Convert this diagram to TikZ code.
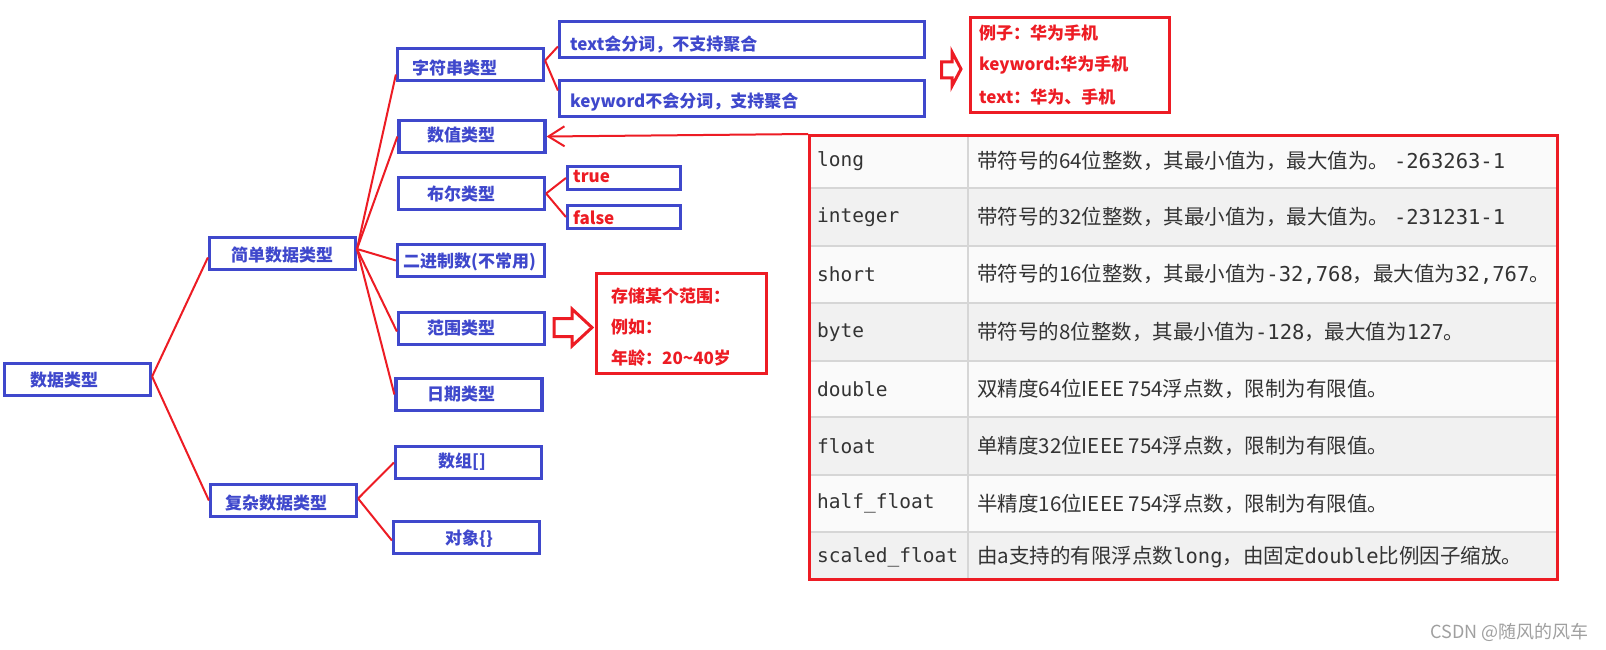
\documentclass[tikz,border=0pt]{standalone}
\usepackage{fontspec}
\setmainfont{DejaVu Sans}
\newfontfamily\cjk{Noto Sans CJK SC}
\newfontfamily\mono{DejaVu Sans Mono}
\usetikzlibrary{arrows.meta}
\definecolor{bl}{HTML}{3F48CC}
\definecolor{rd}{HTML}{ED1C24}
\definecolor{tx}{HTML}{333333}
\definecolor{gl}{HTML}{D6D6D6}
\definecolor{rowa}{HTML}{FAFAFA}
\definecolor{rowb}{HTML}{F1F1F1}
\definecolor{wm}{HTML}{A0A0A0}
\tikzset{
  bbox/.style={draw=bl, line width=3.2pt, minimum width=146pt, minimum height=32pt, inner sep=0pt},
  btxt/.style={text=bl, font={\cjk\bfseries\fontsize{17pt}{19pt}\selectfont}, anchor=west, inner sep=0pt},
  rtxt/.style={text=rd, font={\cjk\bfseries\fontsize{17pt}{19pt}\selectfont}, anchor=west, inner sep=0pt},
  rbox/.style={draw=rd, line width=3pt, inner sep=0pt},
  link/.style={draw=rd, line width=2pt},
  hollow/.style={draw=rd, line width=3pt, fill=white, line join=miter},
  keytxt/.style={text=tx, font={\mono\fontsize{19.5pt}{22pt}\selectfont}, anchor=west, inner sep=0pt},
  desctxt/.style={text=tx, font={\cjk\fontsize{20.5pt}{22pt}\selectfont}, anchor=west, inner sep=0pt},
  grid/.style={draw=gl, line width=2pt}
}
\newcommand{\mn}[1]{{\mono #1}}
\begin{document}
\begin{tikzpicture}[x=1pt,y=-1pt]
\useasboundingbox[fill=white] (0,0) rectangle (1606,650);

% ---------- tree boxes ----------
\node[bbox] (data) at (77.5,379.5) {};
\node[btxt] at (30,380) {数据类型};
\node[bbox] (simple) at (282.5,253.5) {};
\node[btxt] at (231,255) {简单数据类型};
\node[bbox] (complex) at (283.5,500.5) {};
\node[btxt] at (225,503) {复杂数据类型};

\node[bbox] (str) at (470.5,64.5) {};
\node[btxt] at (412,68) {字符串类型};
\node[bbox] (num) at (472,136.5) {};
\node[btxt] at (427,135) {数值类型};
\node[bbox] (bool) at (471.5,193.5) {};
\node[btxt] at (427,194) {布尔类型};
\node[bbox, minimum width=147pt] (bin) at (471,260.5) {};
\node[btxt] at (403,262) {二进制数(不常用)};
\node[bbox] (range) at (471.5,328.5) {};
\node[btxt] at (427,328) {范围类型};
\node[bbox] (date) at (469,394.5) {};
\node[btxt] at (427,394) {日期类型};
\node[bbox] (arr) at (468.5,462.5) {};
\node[btxt] at (438,462) {数组[]};
\node[bbox] (obj) at (466.5,537.5) {};
\node[btxt] at (445,539) {对象\{\}};

\node[bbox, minimum width=365pt, minimum height=36pt] (tbox) at (742,39.5) {};
\node[btxt] at (570,44) {text会分词，不支持聚合};
\node[bbox, minimum width=365pt, minimum height=36pt] (kbox) at (742,98.5) {};
\node[btxt] at (570,102) {keyword不会分词，支持聚合};

\node[bbox, minimum width=113pt, minimum height=23pt] (tru) at (624,178) {};
\node[rtxt] at (573,176) {true};
\node[bbox, minimum width=113pt, minimum height=23pt] (fls) at (624,217) {};
\node[rtxt] at (573,218) {false};

% ---------- red note boxes ----------
\node[rbox, minimum width=199pt, minimum height=95pt] (ex) at (1070,65.5) {};
\node[rtxt] at (979,33) {例子：华为手机};
\node[rtxt] at (979,65) {keyword:华为手机};
\node[rtxt] at (979,97) {text：华为、手机};

\node[rbox, minimum width=170pt, minimum height=100pt] (rng) at (681.5,323) {};
\node[rtxt] at (611,296) {存储某个范围：};
\node[rtxt] at (611,327) {例如：};
\node[rtxt] at (611,358) {年龄：20\textasciitilde40岁};

% hollow arrows
\draw[hollow] (941.6,62) -- (952,62) -- (952,52) -- (961,69) -- (952,86) -- (952,78) -- (941.6,78) -- cycle;
\draw[hollow] (554,318.5) -- (572,318.5) -- (572,309) -- (592,327.5) -- (572,346) -- (572,336.5) -- (554,336.5) -- cycle;

% ---------- connectors ----------
\coordinate (sf) at (357,249);
\draw[link] ([yshift=3pt]data.east) -- ([yshift=-4pt]simple.west);
\draw[link] ([yshift=3pt]data.east) -- (complex.west);
\draw[link] (sf) -- ([yshift=-10pt]str.west);
\draw[link] (sf) -- (num.west);
\draw[link] (sf) -- (bin.west);
\draw[link] (sf) -- ([yshift=-3pt]range.west);
\draw[link] (sf) -- (date.west);
\draw[link] ([yshift=2pt]complex.east) -- (arr.west);
\draw[link] ([yshift=2pt]complex.east) -- ([yshift=-3pt]obj.west);
\draw[link] ([yshift=4pt]str.east) -- ([yshift=-7pt]tbox.west);
\draw[link] ([yshift=4pt]str.east) -- ([yshift=8pt]kbox.west);
\draw[link] (bool.east) -- (tru.west);
\draw[link] (bool.east) -- (fls.west);

% ---------- table ----------
\fill[rowa] (808,134) rectangle (1556,188);
\fill[rowb] (808,188) rectangle (1556,246);
\fill[rowa] (808,246) rectangle (1556,303);
\fill[rowb] (808,303) rectangle (1556,361);
\fill[rowa] (808,361) rectangle (1556,417);
\fill[rowb] (808,417) rectangle (1556,475);
\fill[rowa] (808,475) rectangle (1556,532);
\fill[rowb] (808,532) rectangle (1556,578);
\foreach \yy in {188,246,303,361,417,475,532} {\draw[grid] (808,\yy) -- (1556,\yy);}
\draw[grid] (968,134) -- (968,580);

\node[keytxt] (k1) at (817,161) {long};
\node[keytxt] (k2) at (817,217) {integer};
\node[keytxt] (k3) at (817,274.5) {short};
\node[keytxt] (k4) at (817,332) {byte};
\node[keytxt] (k5) at (817,389) {double};
\node[keytxt] (k6) at (817,446) {float};
\node[keytxt] (k7) at (817,503.5) {half\_float};
\node[keytxt] (k8) at (817,557) {scaled\_float};

\node[desctxt] (d1) at (977,161) {带符号的64位整数，其最小值为，最大值为。 \mn{-263263-1}};
\node[desctxt] (d2) at (977,217) {带符号的32位整数，其最小值为，最大值为。 \mn{-231231-1}};
\node[desctxt] (d3) at (977,274.5) {带符号的16位整数，其最小值为\mn{-32,768}，最大值为\mn{32,767}。};
\node[desctxt] (d4) at (977,332) {带符号的8位整数，其最小值为\mn{-128}，最大值为\mn{127}。};
\node[desctxt] (d5) at (977,389) {双精度64位IEEE 754浮点数，限制为有限值。};
\node[desctxt] (d6) at (977,446) {单精度32位IEEE 754浮点数，限制为有限值。};
\node[desctxt] (d7) at (977,503.5) {半精度16位IEEE 754浮点数，限制为有限值。};
\node[desctxt] (d8) at (977,557) {由a支持的有限浮点数\mn{long}，由固定\mn{double}比例因子缩放。};

\node[rbox, minimum width=748pt, minimum height=444pt, anchor=north west] (tbl) at (808,134) {};
\draw[link, -{Straight Barb[length=16pt,width=20pt]}] (tbl.north west) -- (num.east);

% watermark
\node[anchor=east, inner sep=0pt, text=wm, font={\cjk\fontsize{18pt}{20pt}\selectfont}] (wmk) at (1589,632) {CSDN @随风的风车};
\end{tikzpicture}
\end{document}
